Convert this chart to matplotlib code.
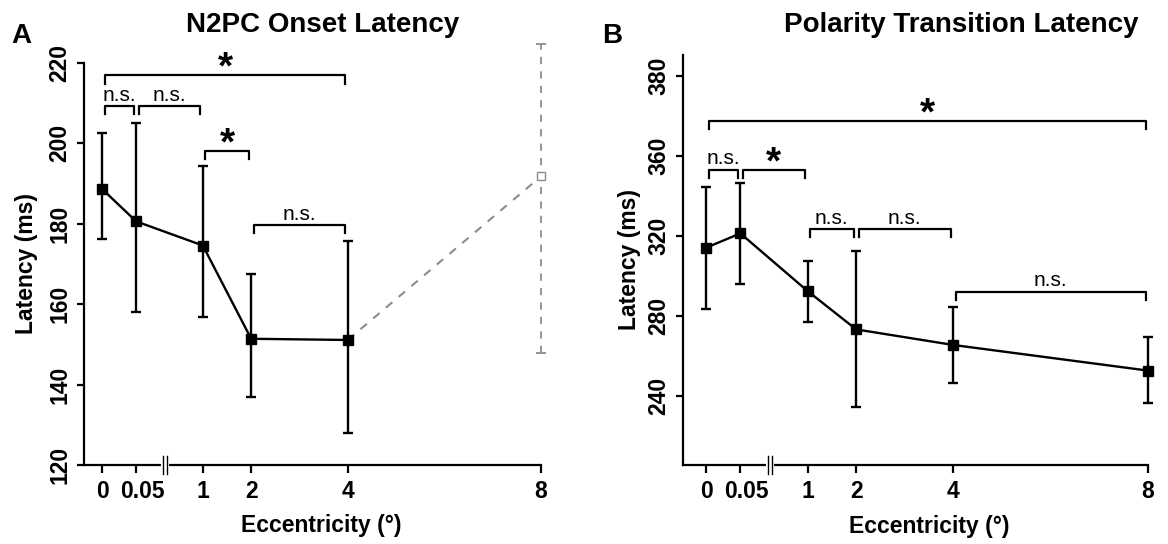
import matplotlib
matplotlib.use('Agg')
import matplotlib.pyplot as plt
import matplotlib.transforms as mtransforms
import numpy as np

plt.rcParams['font.family'] = ['Liberation Sans', 'DejaVu Sans']

################################# DADOS #########################################

ecc_labels = ['0', '0.05', '1', '2', '4', '8']
# posicao de cada excentricidade no eixo (0 e 0.05 antes da quebra)
xpos = np.array([-1.08, -0.38, 1, 2, 4, 8])
xbreak = 0.2

# N2PC onset (0 a 4 graus) + ponto cinza em 8 graus
n2pc_mean = np.array([188.6, 180.6, 174.6, 151.4, 151.1])
n2pc_up = np.array([202.6, 205.1, 194.5, 167.5, 175.8])
n2pc_lo = np.array([176.3, 158.0, 156.8, 136.8, 127.9])
n2pc8_mean = 191.8
n2pc8_up = 224.7
n2pc8_lo = 147.8

# transicao de polaridade (0 a 8 graus)
pol_mean = np.array([314.2, 321.3, 292.5, 273.3, 265.5, 252.7])
pol_up = np.array([344.7, 346.3, 307.5, 312.7, 284.5, 269.3])
pol_lo = np.array([283.5, 296.0, 276.8, 234.7, 246.5, 236.7])

# comparacoes: (indice inicial, indice final, altura, texto)
comp_A = [(0, 4, 216.9, '*'), (0, 1, 209.2, 'n.s.'), (1, 2, 209.2, 'n.s.'),
          (2, 3, 198.2, '*'), (3, 4, 179.6, 'n.s.')]
comp_B = [(0, 5, 377.7, '*'), (0, 1, 353.0, 'n.s.'), (1, 2, 353.0, '*'),
          (2, 3, 323.3, 'n.s.'), (3, 4, 323.3, 'n.s.'), (4, 5, 292.2, 'n.s.')]

yticks_A = [120, 140, 160, 180, 200, 220]
ylabels_A = ['120', '140', '160', '180', '200', '220']
yticks_B = [240, 280, 320, 360, 400]
ylabels_B = ['240', '280', '320', '360', '380']


def estilo(ax, xmin, ylim, yticks, ylabels, xl_x, yl_x):
    for s in ['top', 'right']:
        ax.spines[s].set_visible(False)
    for s in ['left', 'bottom']:
        ax.spines[s].set_linewidth(1.6)
    ax.set_xlim(xmin, 8)
    ax.set_ylim(ylim)
    ax.set_xticks(xpos)
    ax.set_xticklabels(ecc_labels, fontsize=16.5, fontweight='bold')
    ax.set_yticks(yticks)
    ax.set_yticklabels(ylabels, fontsize=16.5, fontweight='bold', rotation=90, va='center')
    ax.tick_params(axis='x', length=6, width=1.6, pad=5)
    ax.tick_params(axis='y', length=5, width=1.6, pad=4)
    # rotulo 0.05 deslocado um pouco pra direita, como no original
    lbl = ax.get_xticklabels()[1]
    lbl.set_transform(lbl.get_transform() +
                      mtransforms.ScaledTranslation(6 / 100., 0, fig.dpi_scale_trans))
    ax.set_xlabel(u'Eccentricity (°)', fontsize=16.5, fontweight='bold', va='center')
    ax.set_ylabel(u'Latency (ms)', fontsize=16.5, fontweight='bold', va='center')
    ax.xaxis.set_label_coords(xl_x, -0.15)
    ax.yaxis.set_label_coords(yl_x, 0.5)
    # quebra do eixo x
    tr = ax.get_xaxis_transform()
    ax.plot([xbreak - 0.02, xbreak + 0.06], [0, 0], color='white', lw=3,
            transform=tr, clip_on=False, zorder=5)
    for dx in [-0.02, 0.06]:
        ax.plot([xbreak + dx, xbreak + dx], [-0.022, 0.022], color='k', lw=1.0,
                transform=tr, clip_on=False, zorder=6)


def colchetes(ax, comps, drop):
    for i, j, y, txt in comps:
        x0 = xpos[i] + 0.05
        x1 = xpos[j] - 0.05
        ax.plot([x0, x0, x1, x1], [y - drop, y, y, y - drop], color='k', lw=1.6,
                clip_on=False)
        if txt == '*':
            ax.annotate(txt, xy=((x0 + x1) / 2., y), xytext=(0, -2.5),
                        textcoords='offset points', ha='center', va='baseline',
                        fontsize=28, fontweight='bold', annotation_clip=False)
        else:
            ax.annotate(txt, xy=((x0 + x1) / 2., y), xytext=(0, 4),
                        textcoords='offset points', ha='center', va='baseline',
                        fontsize=15, annotation_clip=False)


fig = plt.figure(figsize=(11.68, 5.44), dpi=100)
axA = fig.add_axes([84 / 1168., 79 / 544., 457 / 1168., 402 / 544.])
axB = fig.add_axes([683 / 1168., 79 / 544., 465 / 1168., 410 / 544.])

############################### PAINEL A ########################################

axA.plot([xpos[4], xpos[5]], [n2pc_mean[4], n2pc8_mean], color='#8c8c8c', lw=1.5,
         dashes=(4, 4), zorder=1)
eb = axA.errorbar([xpos[5]], [n2pc8_mean],
                  yerr=[[n2pc8_mean - n2pc8_lo], [n2pc8_up - n2pc8_mean]],
                  fmt='s', color='#8c8c8c', mfc='white', mec='#8c8c8c', ms=6,
                  elinewidth=1.3, capsize=3.5, capthick=1.3, zorder=2)
eb[2][0].set_linestyle((0, (4, 4)))
for a in eb.lines[1] + eb.lines[2] + (eb.lines[0],):
    a.set_clip_on(False)

axA.errorbar(xpos[:5], n2pc_mean, yerr=[n2pc_mean - n2pc_lo, n2pc_up - n2pc_mean],
             fmt='s-', color='k', ms=6.5, lw=1.7, elinewidth=1.7, capsize=3.5,
             capthick=1.7, zorder=3)

estilo(axA, -1.46, (120, 220), yticks_A, ylabels_A, 0.52, -0.125)
colchetes(axA, comp_A, 2.0)

############################### PAINEL B ########################################

axB.errorbar(xpos, pol_mean, yerr=[pol_mean - pol_lo, pol_up - pol_mean],
             fmt='s-', color='k', ms=6.5, lw=1.7, elinewidth=1.7, capsize=3.5,
             capthick=1.7, zorder=3, clip_on=False)

estilo(axB, -1.56, (205.5, 410.5), yticks_B, ylabels_B, 0.53, -0.116)
colchetes(axB, comp_B, 4.0)

############################### TITULOS #########################################

fig.text(323 / 1168., 1 - 31.7 / 544., 'N2PC Onset Latency', ha='center',
         va='baseline', fontsize=20, fontweight='bold')
fig.text(961 / 1168., 1 - 31.7 / 544., 'Polarity Transition Latency', ha='center',
         va='baseline', fontsize=20, fontweight='bold')
fig.text(11 / 1168., 1 - 43 / 544., 'A', ha='left', va='baseline', fontsize=20,
         fontweight='heavy')
fig.text(602 / 1168., 1 - 43 / 544., 'B', ha='left', va='baseline', fontsize=20,
         fontweight='heavy')

plt.savefig('out.png', dpi=100)
